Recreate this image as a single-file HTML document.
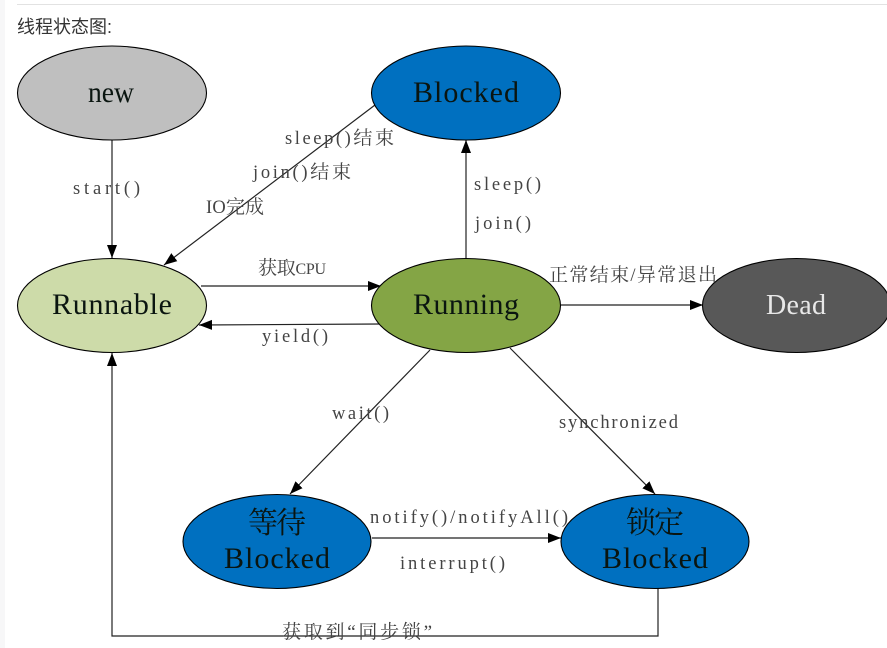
<!DOCTYPE html>
<html>
<head>
<meta charset="utf-8">
<style>
html,body{margin:0;padding:0;background:#fff;width:887px;height:648px;overflow:hidden}
svg{display:block}
.t{font-family:"Liberation Serif","Noto Serif CJK SC",serif}
.big{font-size:30px;fill:#0a1510}
.lab{font-size:18.500px;fill:#444}
.lab tspan{font-size:19px}
.lab .s{font-size:16px}
.ln{stroke:#222;stroke-width:1.200;fill:none}
.e{stroke:#000;stroke-width:1.100}
.d{filter:blur(.3px)}
</style>
</head>
<body>
<svg width="887" height="648" viewBox="0 0 887 648" xmlns="http://www.w3.org/2000/svg">
<defs>
<marker id="a" markerUnits="userSpaceOnUse" markerWidth="14" markerHeight="11" refX="13" refY="5.500" orient="auto">
<path d="M0,0.500 L13,5.500 L0,10.500 Z" fill="#000"/>
</marker>
</defs>
<rect x="0" y="0" width="5" height="648" fill="#f7f7f8"/>
<rect x="5" y="0" width="882" height="648" fill="#fff"/>
<rect x="17" y="4" width="870" height="1" fill="#e2e2e2"/>
<text x="17" y="33" style="font-family:'Liberation Sans','Noto Sans CJK SC',sans-serif;font-size:18px;fill:#333">线程状态图:</text>

<g class="d">
<!-- connectors -->
<path class="ln" d="M112,140 V258" marker-end="url(#a)"/>
<path class="ln" d="M375,105 L164,265" marker-end="url(#a)"/>
<path class="ln" d="M201,286 H381" marker-end="url(#a)"/>
<path class="ln" d="M381,324 L199,325" marker-end="url(#a)"/>
<path class="ln" d="M466,259 V140" marker-end="url(#a)"/>
<path class="ln" d="M561,305 H703" marker-end="url(#a)"/>
<path class="ln" d="M430,350 L290,494" marker-end="url(#a)"/>
<path class="ln" d="M510,348 L655,494" marker-end="url(#a)"/>
<path class="ln" d="M372,538 H561" marker-end="url(#a)"/>
<path class="ln" d="M658,588 V636 H112 V353" marker-end="url(#a)"/>

<!-- nodes -->
<ellipse class="e" cx="112" cy="93" rx="94.500" ry="47" fill="#bfbfbf"/>
<ellipse class="e" cx="466" cy="93" rx="94.500" ry="47" fill="#0070c0"/>
<ellipse class="e" cx="112" cy="305.500" rx="94.500" ry="47" fill="#cddba9"/>
<ellipse class="e" cx="466" cy="305.500" rx="94.500" ry="47" fill="#84a545"/>
<ellipse class="e" cx="796.500" cy="305.500" rx="94" ry="47" fill="#585858"/>
<ellipse class="e" cx="277" cy="541.500" rx="94" ry="47" fill="#0070c0"/>
<ellipse class="e" cx="655" cy="541.500" rx="94" ry="47" fill="#0070c0"/>

<!-- node text -->
<text class="t big" x="88" y="102" textLength="46" lengthAdjust="spacingAndGlyphs">new</text>
<text class="t big" x="413" y="102" textLength="106">Blocked</text>
<text class="t big" x="52" y="314" textLength="120">Runnable</text>
<text class="t big" x="413" y="314" textLength="106">Running</text>
<text class="t big" x="766" y="314" textLength="60" style="fill:#e8e8e8;font-size:28px">Dead</text>
<text class="t big" x="248" y="533" textLength="58">等待</text>
<text class="t big" x="224" y="568" textLength="106">Blocked</text>
<text class="t big" x="626" y="533" textLength="58">锁定</text>
<text class="t big" x="602" y="568" textLength="106">Blocked</text>

<!-- labels -->
<text class="t lab" x="73" y="194" textLength="67">start()</text>
<text class="t lab" x="285" y="144" textLength="109">sleep()<tspan>结束</tspan></text>
<text class="t lab" x="253" y="178" textLength="98">join()<tspan>结束</tspan></text>
<text class="t lab" x="206" y="213" textLength="58">IO<tspan>完成</tspan></text>
<text class="t lab" x="258" y="274" textLength="68"><tspan>获取</tspan><tspan class="s">CPU</tspan></text>
<text class="t lab" x="262" y="342" textLength="66">yield()</text>
<text class="t lab" x="474" y="190" textLength="67">sleep()</text>
<text class="t lab" x="475" y="229" textLength="56">join()</text>
<text class="t lab" x="549" y="281" textLength="168"><tspan>正常结束</tspan>/<tspan>异常退出</tspan></text>
<text class="t lab" x="332" y="419" textLength="57">wait()</text>
<text class="t lab" x="559" y="428" textLength="119">synchronized</text>
<text class="t lab" x="370" y="523" textLength="198">notify()/notifyAll()</text>
<text class="t lab" x="400" y="569" textLength="105">interrupt()</text>
<text class="t lab" x="282" y="638" textLength="150"><tspan>获取到“同步锁”</tspan></text>
</g>
</svg>
</body>
</html>
